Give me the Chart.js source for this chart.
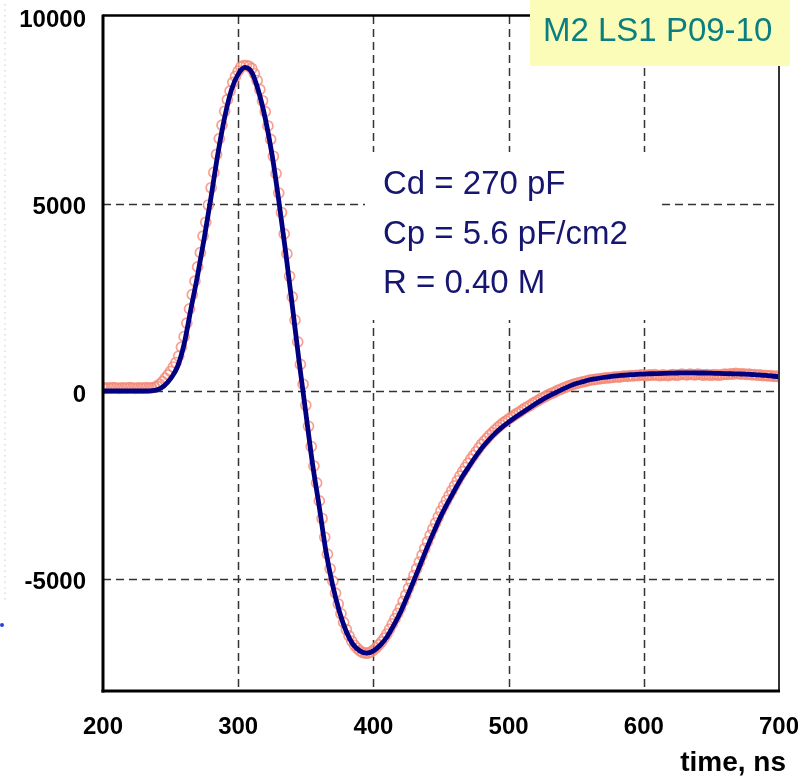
<!DOCTYPE html>
<html>
<head>
<meta charset="utf-8">
<script src="https://cdn.jsdelivr.net/npm/chart.js@4.4.1/dist/chart.umd.min.js"></script>
<style>
  html, body { margin: 0; padding: 0; background: #ffffff; }
  #wrap { position: relative; width: 811px; height: 776px; }
</style>
</head>
<body>
<div id="wrap"><canvas id="c" width="811" height="776"></canvas></div>
<script>
// ---------- DATA ----------
const xTicks = [200, 300, 400, 500, 600, 700];
const yTicks = [-5000, 0, 5000, 10000];

const plotTitle = "M2 LS1 P09-10";
const infoLines = ["Cd = 270 pF", "Cp = 5.6 pF/cm2", "R = 0.40 M"];
const xAxisTitle = "time, ns";

// fitted curve (navy line), time in ns
const fitTimes = [
  200,205,210,215,220,225,230,235,240,245,
  250,255,260,265,270,275,280,285,290,295,
  300,305,310,315,320,325,330,335,340,345,
  350,355,360,365,370,375,380,385,390,395,
  400,405,410,415,420,425,430,435,440,445,
  450,455,460,465,470,475,480,485,490,495,
  500,505,510,515,520,525,530,535,540,545,
  550,555,560,565,570,575,580,585,590,595,
  600,605,610,615,620,625,630,635,640,645,
  650,655,660,665,670,675,680,685,690,695,
  700
];
const fitValues = [
  0,0,0,0,0,0,0,5,30,130,
  330,640,1250,2180,3090,4100,5190,6330,7300,8030,
  8450,8630,8500,8000,7270,6310,5080,3730,2280,800,
  -580,-1950,-3100,-4300,-5200,-5900,-6420,-6760,-6930,-6990,
  -6930,-6780,-6560,-6250,-5900,-5480,-5050,-4600,-4150,-3730,
  -3330,-2980,-2650,-2330,-2050,-1780,-1530,-1320,-1130,-970,
  -830,-700,-580,-460,-340,-230,-130,-40,50,130,
  200,250,300,330,360,385,405,420,435,445,
  450,460,465,470,475,480,485,485,480,480,
  475,470,465,460,455,450,440,430,415,400,
  380
];

// measured samples (salmon circles), time in ns
const measTimes = [
  200,202,204,206,208,210,212,214,216,218,
  220,222,224,226,228,230,232,234,236,238,
  240,242,244,246,248,250,252,254,256,258,
  260,262,264,266,268,270,272,274,276,278,
  280,282,284,286,288,290,292,294,296,298,
  300,302,304,306,308,310,312,314,316,318,
  320,322,324,326,328,330,332,334,336,338,
  340,342,344,346,348,350,352,354,356,358,
  360,362,364,366,368,370,372,374,376,378,
  380,382,384,386,388,390,392,394,396,398,
  400,402,404,406,408,410,412,414,416,418,
  420,422,424,426,428,430,432,434,436,438,
  440,442,444,446,448,450,452,454,456,458,
  460,462,464,466,468,470,472,474,476,478,
  480,482,484,486,488,490,492,494,496,498,
  500,502,504,506,508,510,512,514,516,518,
  520,522,524,526,528,530,532,534,536,538,
  540,542,544,546,548,550,552,554,556,558,
  560,562,564,566,568,570,572,574,576,578,
  580,582,584,586,588,590,592,594,596,598,
  600,602,604,606,608,610,612,614,616,618,
  620,622,624,626,628,630,632,634,636,638,
  640,642,644,646,648,650,652,654,656,658,
  660,662,664,666,668,670,672,674,676,678,
  680,682,684,686,688,690,692,694,696,698,
  700
];
const measValues = [
  90,70,85,75,90,80,70,85,80,75,
  90,80,70,85,80,75,90,80,85,100,
  130,180,250,340,430,520,640,760,930,1170,
  1450,1810,2190,2570,2930,3310,3690,4130,4500,4960,
  5420,5830,6310,6730,7090,7460,7770,8000,8230,8390,
  8530,8640,8680,8680,8660,8600,8460,8280,8040,7740,
  7450,7070,6710,6260,5800,5280,4760,4190,3660,3060,
  2510,1890,1310,710,180,-380,-940,-1480,-2000,-2450,
  -2930,-3400,-3900,-4350,-4740,-5070,-5390,-5680,-5940,-6170,
  -6360,-6530,-6670,-6780,-6860,-6930,-6970,-6990,-6990,-6960,
  -6910,-6850,-6770,-6690,-6590,-6480,-6350,-6210,-6070,-5930,
  -5790,-5610,-5440,-5260,-5090,-4920,-4740,-4560,-4380,-4200,
  -4020,-3850,-3680,-3520,-3360,-3200,-3060,-2920,-2790,-2660,
  -2530,-2400,-2270,-2150,-2040,-1930,-1820,-1720,-1620,-1520,
  -1420,-1340,-1260,-1180,-1110,-1040,-970,-910,-850,-800,
  -750,-700,-650,-600,-560,-510,-460,-420,-380,-330,
  -290,-250,-200,-170,-130,-90,-60,-30,10,40,
  70,100,130,150,180,200,220,240,250,270,
  290,300,310,320,330,340,350,350,360,370,
  380,370,390,400,390,410,400,420,410,430,
  420,410,430,420,440,420,410,430,420,410,
  430,440,420,430,450,440,430,450,440,430,
  450,440,420,440,430,420,440,430,420,440,
  450,440,460,450,470,460,450,460,440,450,
  430,440,420,430,410,420,400,410,390,400,
  380
];

// ---------- CHART ----------
const FONT = '"Liberation Sans", Arial, Helvetica, sans-serif';

const decoPlugin = {
  id: 'deco',
  beforeDatasetsDraw(chart) {
    const { ctx, chartArea: a, scales: { x, y } } = chart;
    ctx.save();
    ctx.setLineDash([8, 5]);
    ctx.strokeStyle = '#333333';
    ctx.lineWidth = 1.5;
    xTicks.forEach(v => {
      if (v === x.min || v === x.max) return;
      const px = Math.round(x.getPixelForValue(v)) + 0.5;
      ctx.beginPath(); ctx.moveTo(px, a.top); ctx.lineTo(px, a.bottom); ctx.stroke();
    });
    yTicks.forEach(v => {
      if (v === y.min || v === y.max) return;
      const py = Math.round(y.getPixelForValue(v)) + 0.5;
      ctx.beginPath(); ctx.moveTo(a.left, py); ctx.lineTo(a.right, py); ctx.stroke();
    });
    ctx.setLineDash([]);
    const bx = a.left + 262, by = a.top + 136;
    ctx.fillStyle = '#ffffff';
    ctx.fillRect(bx, by, 292, 168);
    ctx.fillStyle = '#161670';
    ctx.font = '33px ' + FONT;
    ctx.textAlign = 'left';
    ctx.textBaseline = 'alphabetic';
    infoLines.forEach((t, i) => {
      ctx.fillText(t, a.left + 280, a.top + 178 + i * 49.5);
    });
    ctx.restore();
  },
  afterDatasetsDraw(chart) {
    const { ctx, chartArea: a } = chart;
    ctx.save();
    ctx.strokeStyle = '#000000';
    ctx.lineWidth = 2.5;
    ctx.beginPath(); ctx.moveTo(a.left, a.top - 0.5); ctx.lineTo(a.right, a.top - 0.5); ctx.stroke();
    ctx.strokeStyle = '#333333';
    ctx.lineWidth = 2;
    ctx.beginPath(); ctx.moveTo(a.right, a.top); ctx.lineTo(a.right, a.bottom); ctx.stroke();
    ctx.strokeStyle = '#000000';
    ctx.lineWidth = 3;
    ctx.beginPath(); ctx.moveTo(a.left, a.top - 1.5); ctx.lineTo(a.left, a.bottom + 1.5); ctx.stroke();
    ctx.beginPath(); ctx.moveTo(a.left - 1.5, a.bottom); ctx.lineTo(a.right + 1, a.bottom); ctx.stroke();
    ctx.restore();
  },
  afterDraw(chart) {
    const { ctx } = chart;
    ctx.save();
    ctx.fillStyle = '#fafcb8';
    ctx.fillRect(530, 0, 260, 66);
    ctx.fillStyle = '#0b7f80';
    ctx.font = '33px ' + FONT;
    ctx.textAlign = 'left';
    ctx.textBaseline = 'alphabetic';
    ctx.fillText(plotTitle, 543, 41);
    ctx.fillStyle = '#000000';
    ctx.font = 'bold 28px ' + FONT;
    ctx.textAlign = 'right';
    ctx.fillText(xAxisTitle, 786, 771);
    ctx.strokeStyle = '#d4dcf4';
    ctx.lineWidth = 1.5;
    ctx.setLineDash([1.5, 4]);
    ctx.beginPath(); ctx.moveTo(5, 4); ctx.lineTo(5, 600); ctx.stroke();
    ctx.setLineDash([]);
    ctx.fillStyle = '#2a3ee0';
    ctx.beginPath(); ctx.arc(2, 625, 2, 0, Math.PI * 2); ctx.fill();
    ctx.restore();
  }
};

new Chart(document.getElementById('c'), {
  type: 'line',
  data: {
    datasets: [
      {
        label: 'fit',
        data: fitTimes.map((t, i) => ({ x: t, y: fitValues[i] })),
        borderColor: '#000080',
        borderWidth: 4.8,
        pointRadius: 0,
        fill: false,
        cubicInterpolationMode: 'monotone'
      },
      {
        label: 'measured',
        data: measTimes.map((t, i) => ({ x: t, y: measValues[i] })),
        showLine: false,
        pointStyle: 'circle',
        pointRadius: 5,
        pointBorderWidth: 1.7,
        pointBorderColor: 'rgba(245,136,118,0.8)',
        pointBackgroundColor: 'rgba(255,255,255,0)'
      }
    ]
  },
  options: {
    responsive: false,
    animation: false,
    events: [],
    layout: { padding: { left: 0, top: 16, right: 32, bottom: 0 } },
    plugins: { legend: { display: false }, tooltip: { enabled: false }, title: { display: false } },
    scales: {
      x: {
        type: 'linear',
        min: 200, max: 700,
        afterBuildTicks: s => { s.ticks = xTicks.map(v => ({ value: v })); },
        afterFit: s => { s.height = 85; s.paddingLeft = 0; s.paddingRight = 0; },
        grid: { display: false, drawTicks: false },
        border: { display: false },
        ticks: {
          autoSkip: false, maxRotation: 0, padding: 22,
          color: '#000000',
          font: { family: FONT, size: 24, weight: 'bold' },
          callback: v => String(v)
        }
      },
      y: {
        type: 'linear',
        min: -8000, max: 10000,
        afterBuildTicks: s => { s.ticks = yTicks.map(v => ({ value: v })); },
        afterFit: s => { s.width = 103; s.paddingTop = 0; s.paddingBottom = 0; },
        grid: { display: false, drawTicks: false },
        border: { display: false },
        ticks: {
          padding: 17, labelOffset: 4,
          color: '#000000',
          font: { family: FONT, size: 24, weight: 'bold' },
          callback: v => String(v)
        }
      }
    }
  },
  plugins: [decoPlugin]
});
</script>
</body>
</html>
